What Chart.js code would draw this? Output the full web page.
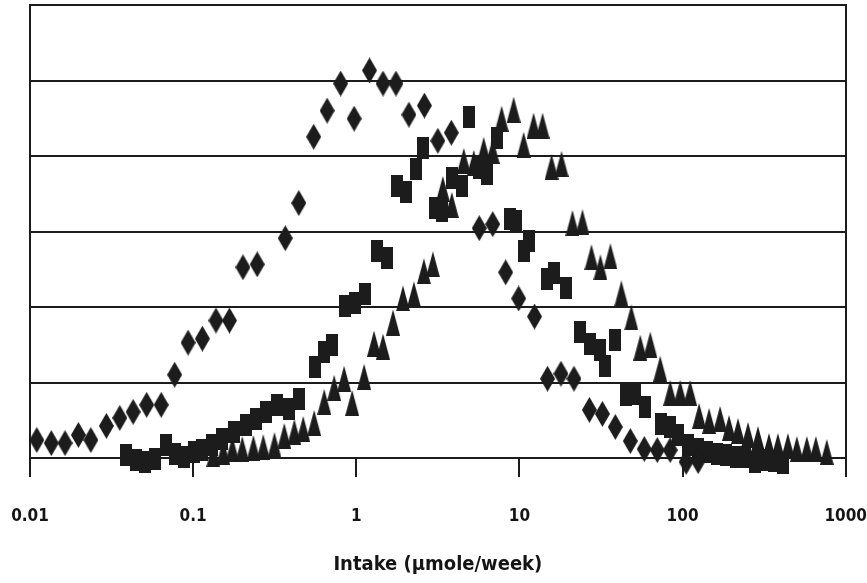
<!DOCTYPE html>
<html>
<head>
<meta charset="utf-8">
<script src="https://cdn.jsdelivr.net/npm/chart.js@4.4.1/dist/chart.umd.min.js"></script>
<style>
  html, body { margin: 0; padding: 0; background: #fff; }
  #wrap { width: 867px; height: 583px; position: relative; }
</style>
</head>
<body>
<div id="wrap"><canvas id="chart"></canvas></div>
<script>
// x-axis decades
const tickValues = [0.01, 0.1, 1, 10, 100, 1000];
const tickLabels = ['0.01', '0.1', '1', '10', '100', '1000'];

// diamonds
const diamondX = [0.011, 0.0135, 0.0164, 0.0198, 0.0236, 0.0294, 0.0355, 0.0429, 0.0519, 0.0637,
  0.077, 0.0931, 0.114, 0.138, 0.167, 0.202, 0.247, 0.367, 0.444, 0.548,
  0.663, 0.802, 0.97, 1.206, 1.458, 1.751, 2.102, 2.615, 3.162, 3.824,
  5.673, 6.86, 8.234, 9.888, 12.38, 14.87, 17.98, 21.59, 26.86, 32.25,
  38.73, 47.83, 58.27, 69.96, 84.0, 105.2, 124.6];
const diamondY = [0.239, 0.199, 0.199, 0.306, 0.239, 0.426, 0.532, 0.612, 0.705, 0.705,
  1.104, 1.529, 1.582, 1.822, 1.822, 2.527, 2.566, 2.912, 3.378, 4.255,
  4.601, 4.96, 4.495, 5.133, 4.96, 4.96, 4.548, 4.668, 4.202, 4.309,
  3.045, 3.098, 2.46, 2.114, 1.875, 1.051, 1.117, 1.051, 0.638, 0.585,
  0.412, 0.226, 0.12, 0.106, 0.106, -0.05, -0.04];

// squares
const squareX = [0.0386, 0.0444, 0.0505, 0.0581, 0.0678, 0.077, 0.0874, 0.101, 0.114, 0.131,
  0.151, 0.179, 0.212, 0.244, 0.281, 0.328, 0.388, 0.447, 0.56, 0.636,
  0.711, 0.854, 0.983, 1.132, 1.34, 1.543, 1.776, 2.016, 2.32, 2.56,
  3.031, 3.346, 3.851, 4.434, 4.892, 5.632, 6.303, 7.257, 8.712, 9.48,
  10.61, 11.39, 14.67, 16.19, 19.16, 23.67, 27.24, 31.36, 33.65, 38.73,
  45.21, 51.32, 59.09, 74.01, 84.0, 94.0, 108.2, 124.6, 141.4, 162.7,
  184.8, 212.7, 241.4, 277.8, 315.4, 363.0, 412.0, 474.5, 538.5, 619.7, 703.8];
const squareY = [0.04, -0.027, -0.053, -0.013, 0.173, 0.053, 0.013, 0.08, 0.106, 0.173,
  0.253, 0.346, 0.439, 0.519, 0.612, 0.705, 0.652, 0.785, 1.21, 1.41,
  1.503, 2.008, 2.048, 2.168, 2.739, 2.646, 3.604, 3.524, 3.83, 4.109,
  3.311, 3.271, 3.71, 3.604, 4.521, 3.843, 3.763, 4.242, 3.165, 3.138,
  2.739, 2.872, 2.367, 2.447, 2.247, 1.676, 1.516, 1.436, 1.223, 1.569,
  0.838, 0.851, 0.678, 0.452, 0.412, 0.306, 0.173, 0.12, 0.08, 0.053,
  0.04, 0.013, 0.013, -0.053, -0.027, -0.04, -0.066, -0.093, -0.093, -0.08, -0.08];

// triangles
const triangleX = [0.133, 0.153, 0.174, 0.2, 0.234, 0.269, 0.315, 0.362, 0.417, 0.473,
  0.552, 0.636, 0.732, 0.842, 0.943, 1.116, 1.285, 1.458, 1.679, 1.932,
  2.256, 2.597, 2.948, 3.394, 3.851, 4.56, 5.25, 6.042, 6.86, 7.784,
  9.218, 10.61, 12.21, 13.87, 15.74, 18.11, 21.14, 24.34, 27.63, 31.36,
  36.1, 42.14, 48.51, 55.07, 63.39, 72.97, 84.0, 96.69, 111.3, 126.3,
  145.4, 169.8, 192.7, 218.8, 251.8, 289.9, 338.4, 384.0, 442.1, 501.8,
  577.6, 655.8, 765.6];
const triangleY = [0.053, 0.08, 0.12, 0.12, 0.133, 0.146, 0.173, 0.293, 0.346, 0.386,
  0.465, 0.745, 0.931, 1.051, 0.731, 1.077, 1.516, 1.476, 1.795, 2.114,
  2.168, 2.473, 2.566, 3.564, 3.351, 3.936, 3.91, 4.082, 4.069, 4.495,
  4.614, 4.149, 4.402, 4.402, 3.856, 3.896, 3.112, 3.125, 2.66, 2.527,
  2.673, 2.181, 1.862, 1.463, 1.503, 1.184, 0.864, 0.864, 0.864, 0.559,
  0.492, 0.519, 0.399, 0.359, 0.306, 0.253, 0.16, 0.16, 0.16, 0.12,
  0.12, 0.12, 0.08];

const ink = '#1c1c1c';
const fontFamily = "'Liberation Sans Narrow', 'DejaVu Sans Condensed', sans-serif";

// small offscreen canvases used as point styles (tall, narrow markers like the scan)
function marker(shape, w, h) {
  const c = document.createElement('canvas');
  c.width = w;
  c.height = h;
  const g = c.getContext('2d');
  g.fillStyle = ink;
  g.beginPath();
  if (shape === 'diamond') {
    g.moveTo(w / 2, 0); g.lineTo(w, h / 2); g.lineTo(w / 2, h); g.lineTo(0, h / 2);
  } else if (shape === 'triangle') {
    g.moveTo(w / 2, 0); g.lineTo(w, h); g.lineTo(0, h);
  } else {
    g.rect(0, 0, w, h);
  }
  g.closePath();
  g.fill();
  return c;
}

const toPoints = (xs, ys) => xs.map((x, i) => ({ x: x, y: ys[i] }));

const series = (label, xs, ys, style) => ({
  label: label,
  data: toPoints(xs, ys),
  pointStyle: style,
  backgroundColor: ink,
  borderColor: ink,
  clip: false
});

new Chart(document.getElementById('chart'), {
  type: 'scatter',
  data: {
    datasets: [
      series('diamonds', diamondX, diamondY, marker('diamond', 15, 26)),
      series('squares', squareX, squareY, marker('square', 12, 22)),
      series('triangles', triangleX, triangleY, marker('triangle', 14, 26))
    ]
  },
  options: {
    responsive: true,
    maintainAspectRatio: false,
    animation: false,
    layout: { padding: { left: 0, right: 0, top: 5, bottom: 4 } },
    plugins: {
      legend: { display: false },
      tooltip: { enabled: false }
    },
    scales: {
      x: {
        type: 'logarithmic',
        min: 0.01,
        max: 1000,
        afterBuildTicks: axis => {
          axis.ticks = tickValues.map(v => ({ value: v }));
        },
        ticks: {
          callback: (v, i) => tickLabels[i],
          autoSkip: false,
          maxRotation: 0,
          padding: 0,
          color: '#151515',
          font: { family: fontFamily, size: 17, weight: 'bold', lineHeight: 4.7 }
        },
        grid: { drawOnChartArea: false, drawTicks: true, tickLength: 19, color: ink, lineWidth: 2 },
        border: { display: true, color: ink, width: 2 },
        title: {
          display: true,
          text: 'Intake (µmole/week)',
          color: '#151515',
          font: { family: fontFamily, size: 20, weight: 'bold', lineHeight: 1.2 },
          padding: { top: -4, bottom: 2 }
        }
      },
      y: {
        min: 0,
        max: 6,
        afterFit: axis => { axis.width = 30; },
        ticks: { display: false, stepSize: 1 },
        grid: { color: ink, lineWidth: 2, drawTicks: false },
        border: { display: true, color: ink, width: 2 }
      },
      y2: {
        position: 'right',
        min: 0,
        max: 6,
        afterFit: axis => { axis.width = 19; },
        ticks: { display: false },
        grid: { display: false, drawTicks: false },
        border: { display: true, color: ink, width: 2 }
      }
    }
  }
});
</script>
</body>
</html>
